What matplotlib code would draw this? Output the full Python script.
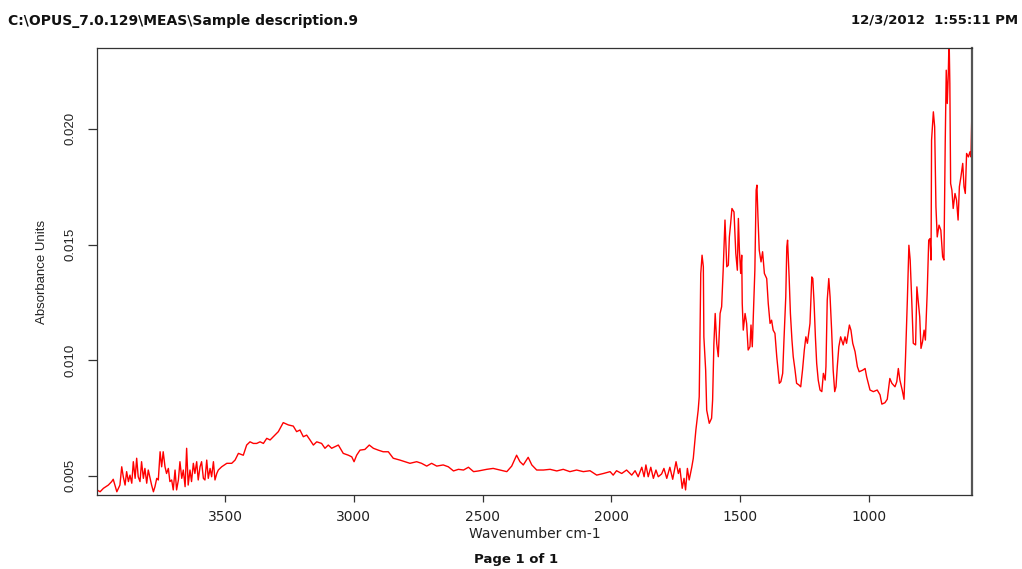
import numpy as np
import matplotlib
matplotlib.use("Agg")
import matplotlib.pyplot as plt

# ------------------------------------------------------------
# IR absorbance spectrum (OPUS export)
# ------------------------------------------------------------
header_left = r"C:\OPUS_7.0.129\MEAS\Sample description.9"
header_right = "12/3/2012  1:55:11 PM"
footer = "Page 1 of 1"

x_ticks = [3500, 3000, 2500, 2000, 1500, 1000]
y_ticks = [0.005, 0.010, 0.015, 0.020]

wavenumber = np.array([
    3997, 3985, 3972, 3953, 3940, 3934, 3920, 3908, 3901, 3895,
    3888, 3882, 3875, 3869, 3862, 3856, 3849, 3843, 3837, 3830,
    3824, 3817, 3811, 3804, 3798, 3791, 3785, 3778, 3772, 3765,
    3759, 3752, 3746, 3740, 3733, 3727, 3720, 3714, 3707, 3701,
    3694, 3688, 3681, 3675, 3668, 3662, 3655, 3649, 3643, 3636,
    3630, 3623, 3617, 3610, 3604, 3597, 3591, 3584, 3578, 3571,
    3565, 3558, 3552, 3545, 3539, 3532, 3526, 3513, 3493, 3474,
    3461, 3448, 3429, 3416, 3403, 3390, 3377, 3364, 3351, 3338,
    3325, 3306, 3293, 3274, 3254, 3235,
    3222, 3209, 3196, 3183, 3170, 3157, 3144, 3125, 3112, 3099,
    3086, 3073, 3060, 3041, 3021, 3008, 2999, 2989, 2976, 2957,
    2940, 2924, 2905, 2886, 2866, 2847, 2821, 2801, 2782, 2756,
    2737, 2717, 2698, 2678, 2653, 2633, 2613, 2594, 2574, 2555,
    2535, 2516,
    2484, 2459, 2432, 2406, 2387, 2368, 2355, 2342, 2323, 2309,
    2290, 2264, 2238, 2212, 2187, 2161, 2135, 2109, 2083, 2057,
    2031, 2005, 1993, 1980, 1960, 1941, 1921, 1908, 1896, 1882,
    1873, 1866, 1857, 1847, 1837, 1827, 1818, 1805, 1796, 1785,
    1773, 1762, 1749, 1740, 1734, 1725, 1718, 1712, 1705, 1698,
    1688, 1682, 1672, 1663,
    1659, 1653, 1648, 1643, 1641, 1634, 1630, 1620, 1611, 1607,
    1602, 1597, 1591, 1585, 1578, 1572, 1566, 1559, 1552, 1546,
    1542, 1537, 1532, 1524, 1517, 1511, 1507, 1503, 1498, 1494,
    1492, 1488, 1481, 1475, 1469, 1462, 1458, 1453, 1449, 1443,
    1438, 1435, 1431, 1426, 1419, 1413, 1406, 1397, 1391, 1384,
    1378, 1372, 1365, 1358, 1352, 1348, 1342, 1335, 1330, 1323,
    1319, 1316, 1310, 1305, 1299, 1294, 1287, 1281, 1272, 1265,
    1258, 1251, 1245, 1239, 1234, 1229, 1222, 1218, 1213, 1208,
    1203, 1197, 1190, 1183, 1177, 1170, 1167, 1162, 1156, 1151,
    1145, 1139, 1133, 1128, 1123, 1117, 1110, 1100, 1093, 1087,
    1076, 1070, 1063, 1054, 1045, 1038,
    1024, 1015, 1009, 996, 983, 968, 957, 950, 938, 929,
    919, 911, 899, 892, 886, 880, 871, 864, 858, 851,
    845, 840, 834, 828, 819, 814, 809, 803, 798, 792,
    786, 781, 774, 768, 763, 759,
    757, 750, 745, 740, 735, 728, 721, 714, 709, 704,
    700, 696, 692, 689, 686, 683, 678, 673, 666, 660,
    654, 649, 643, 636, 631, 626, 621, 614, 608, 604,
    600,
])

absorbance = np.array([
    0.00439, 0.00431, 0.00446, 0.00460, 0.00475, 0.00485, 0.00431, 0.00460, 0.00539, 0.00496,
    0.00460, 0.00518, 0.00475, 0.00503, 0.00468, 0.00561, 0.00489, 0.00576, 0.00496, 0.00475,
    0.00561, 0.00489, 0.00532, 0.00468, 0.00525, 0.00489, 0.00460, 0.00431, 0.00453, 0.00489,
    0.00482, 0.00604, 0.00539, 0.00604, 0.00539, 0.00510, 0.00532, 0.00475, 0.00482, 0.00439,
    0.00525, 0.00439, 0.00482, 0.00561, 0.00489, 0.00525, 0.00453, 0.00619, 0.00460, 0.00525,
    0.00475, 0.00554, 0.00510, 0.00561, 0.00482, 0.00539, 0.00561, 0.00489, 0.00482, 0.00568,
    0.00489, 0.00532, 0.00496, 0.00561, 0.00482, 0.00510, 0.00525, 0.00539, 0.00554, 0.00554,
    0.00568, 0.00597, 0.00589, 0.00633, 0.00647, 0.00640, 0.00640, 0.00647, 0.00640, 0.00662,
    0.00655, 0.00676, 0.00691, 0.00730, 0.00720, 0.00715,
    0.00691, 0.00698, 0.00669, 0.00676, 0.00655, 0.00633, 0.00647, 0.00640, 0.00619, 0.00633,
    0.00619, 0.00626, 0.00633, 0.00597, 0.00589, 0.00582, 0.00561, 0.00589, 0.00611, 0.00614,
    0.00633, 0.00619, 0.00611, 0.00604, 0.00604, 0.00576, 0.00568, 0.00561, 0.00554, 0.00561,
    0.00554, 0.00542, 0.00554, 0.00542, 0.00547, 0.00539, 0.00521, 0.00528, 0.00525, 0.00537,
    0.00518, 0.00521,
    0.00528, 0.00532, 0.00525, 0.00518, 0.00542, 0.00589, 0.00561, 0.00547, 0.00580, 0.00547,
    0.00525, 0.00525, 0.00528, 0.00521, 0.00528, 0.00518, 0.00525, 0.00518, 0.00522, 0.00503,
    0.00510, 0.00518, 0.00503, 0.00522, 0.00510, 0.00525, 0.00503, 0.00522, 0.00496, 0.00537,
    0.00496, 0.00547, 0.00496, 0.00537, 0.00489, 0.00525, 0.00496, 0.00508, 0.00532, 0.00489,
    0.00537, 0.00485, 0.00561, 0.00510, 0.00532, 0.00446, 0.00489, 0.00439, 0.00532, 0.00482,
    0.00537, 0.00576, 0.00698, 0.00784,
    0.00842, 0.01375, 0.01454, 0.01404, 0.01101, 0.00957, 0.00784, 0.00727, 0.00749, 0.00828,
    0.01073, 0.01202, 0.01072, 0.01015, 0.01202, 0.01231, 0.01389, 0.01606, 0.01404, 0.01411,
    0.01533, 0.01591, 0.01656, 0.01641, 0.01462, 0.01389, 0.01613, 0.01476, 0.01375, 0.01454,
    0.01245, 0.01130, 0.01202, 0.01159, 0.01044, 0.01058, 0.01152, 0.01058, 0.01188, 0.01389,
    0.01735, 0.01757, 0.01620, 0.01476, 0.01425, 0.01469, 0.01375, 0.01353, 0.01245, 0.01159,
    0.01173, 0.01130, 0.01116, 0.01015, 0.00943, 0.00900, 0.00907, 0.00943, 0.01087, 0.01274,
    0.01490, 0.01519, 0.01360, 0.01202, 0.01087, 0.01015, 0.00957, 0.00900, 0.00893, 0.00885,
    0.00957, 0.01044, 0.01101, 0.01073, 0.01116, 0.01159, 0.01360, 0.01353, 0.01245, 0.01101,
    0.00986, 0.00914, 0.00871, 0.00864, 0.00943, 0.00914, 0.00972, 0.01260, 0.01353, 0.01274,
    0.01130, 0.00957, 0.00864, 0.00885, 0.00972, 0.01058, 0.01101, 0.01066, 0.01101, 0.01073,
    0.01152, 0.01130, 0.01073, 0.01037, 0.00972, 0.00950,
    0.00957, 0.00964, 0.00928, 0.00871, 0.00864, 0.00871, 0.00850, 0.00810, 0.00816, 0.00831,
    0.00921, 0.00900, 0.00885, 0.00907, 0.00964, 0.00914, 0.00871, 0.00831, 0.01015, 0.01260,
    0.01497, 0.01433, 0.01260, 0.01073, 0.01066, 0.01317, 0.01260, 0.01188, 0.01051, 0.01080,
    0.01130, 0.01087, 0.01289, 0.01519, 0.01526, 0.01433,
    0.01951, 0.02074, 0.02009, 0.01663, 0.01533, 0.01584, 0.01562, 0.01447, 0.01433, 0.01937,
    0.02254, 0.02110, 0.02240, 0.02400, 0.02196, 0.01764, 0.01735, 0.01656, 0.01721, 0.01692,
    0.01606, 0.01750, 0.01793, 0.01851, 0.01750, 0.01721, 0.01894, 0.01879, 0.01901, 0.01879,
    0.02095,
])

# -----------------------------
# Figure
# -----------------------------
W, H = 1022, 569
fig = plt.figure(figsize=(W / 100, H / 100), dpi=100)
ax = fig.add_axes([97 / W, 1 - 495 / H, 875 / W, 447 / H])

ax.plot(wavenumber, absorbance, color="#ff0000", linewidth=1.0)

ax.set_xlim(3997, 600)
ax.set_ylim(0.00417, 0.0235)
ax.set_xticks(x_ticks)
ax.set_xticklabels([str(t) for t in x_ticks], fontsize=10, family="DejaVu Sans")
ax.set_yticks(y_ticks)
ax.set_yticklabels([f"{t:.3f}" for t in y_ticks], fontsize=9.5,
                   family="Liberation Sans", rotation=90, va="center")

ax.tick_params(axis="x", length=5, width=0.9, pad=6, colors="#333333", labelcolor="#222222")
ax.tick_params(axis="y", length=6.5, width=0.9, pad=8, colors="#333333", labelcolor="#222222")
for side in ["left", "bottom", "top"]:
    ax.spines[side].set_color("#333333")
    ax.spines[side].set_linewidth(0.9)
ax.spines["right"].set_color("#555555")
ax.spines["right"].set_linewidth(1.6)

ax.set_xlabel("Wavenumber cm-1", fontsize=10, family="DejaVu Sans", color="#222222", va="center")
ax.xaxis.set_label_coords(0.5, -0.087)
ax.set_ylabel("Absorbance Units", fontsize=9.5, family="Liberation Sans", color="#222222", va="center")
ax.yaxis.set_label_coords(-0.063, 0.5)

fig.text(8 / W, 1 - 21 / H, header_left, fontsize=10, fontweight="bold",
         family="DejaVu Sans", ha="left", va="center", color="#111111")
fig.text(1018 / W, 1 - 20 / H, header_right, fontsize=9.5, fontweight="bold",
         family="DejaVu Sans", ha="right", va="center", color="#111111")
fig.text(516 / W, 1 - 560 / H, footer, fontsize=9.5, fontweight="bold",
         family="DejaVu Sans", ha="center", va="center", color="#111111")

fig.savefig("out.png", dpi=100)
